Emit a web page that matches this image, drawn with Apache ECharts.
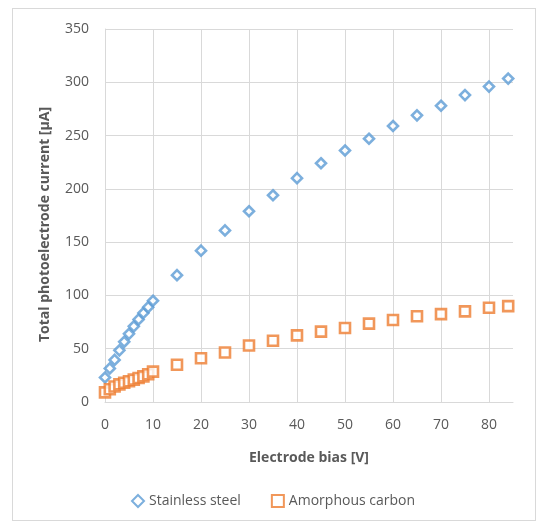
<!DOCTYPE html>
<html>
<head>
<meta charset="utf-8">
<script src="https://cdn.jsdelivr.net/npm/echarts@6/dist/echarts.min.js"></script>
<style>
html,body{margin:0;padding:0;background:#fff;}
#frame{position:absolute;left:12px;top:8px;width:524px;height:513px;border:1px solid #d9d9d9;box-sizing:border-box;}
#chart{position:absolute;left:0;top:0;width:538px;height:523px;}
</style>
</head>
<body>
<div id="frame"></div>
<div id="chart"></div>
<script>
var biasV = [0,1,2,3,4,5,6,7,8,9,10,15,20,25,30,35,40,45,50,55,60,65,70,75,80,84];
var stainlessSteel = [23,31.5,39.5,48.5,56.5,64,71,77.5,83.5,89,95,119,142,161,179,194,210,224,236,247,259,269,278,288,296,303.5];
var amorphousCarbon = [9,12,14.5,16.5,18,19.5,21,22.5,24,26,28.5,35,41,46.5,53,57.5,62.5,66,69.5,73.5,77,80.5,82.5,85,88.5,90];
var yTicks = [0,50,100,150,200,250,300,350];
var xTicks = [0,10,20,30,40,50,60,70,80];
var seriesNames = ['Stainless steel','Amorphous carbon'];

function pairs(xs, ys){ return xs.map(function(x,i){ return [x, ys[i]]; }); }

var font = '"Open Sans", "Liberation Sans", sans-serif';
var chart = echarts.init(document.getElementById('chart'), null, {renderer:'canvas'});
chart.setOption({
  animation:false,
  backgroundColor:'transparent',
  grid:{left:105, top:29, width:408, height:373, containLabel:false},
  xAxis:{
    type:'value', min:0, max:85, interval:10,
    name:'Electrode bias [V]', nameLocation:'middle', nameGap:49,
    nameTextStyle:{color:'#595959', fontFamily:font, fontSize:14, fontWeight:'bold'},
    axisLine:{show:true, lineStyle:{color:'#d9d9d9', width:1}},
    axisTick:{show:false},
    axisLabel:{color:'#595959', fontFamily:font, fontSize:14, margin:16, showMaxLabel:false,
      formatter:function(v){ return xTicks.indexOf(v)>=0 ? String(v) : ''; }},
    splitLine:{show:true, showMaxLine:false, lineStyle:{color:'#d9d9d9', width:1}}
  },
  yAxis:{
    type:'value', min:0, max:350, interval:50,
    name:'Total photoelectrode current [\u03bcA]', nameLocation:'middle', nameGap:53,
    nameTextStyle:{color:'#595959', fontFamily:font, fontSize:14, fontWeight:'bold', padding:[0,18,0,0]},
    axisLine:{show:true, lineStyle:{color:'#d9d9d9', width:1}},
    axisTick:{show:false},
    axisLabel:{color:'#595959', fontFamily:font, fontSize:14, margin:16,
      formatter:function(v){ return yTicks.indexOf(v)>=0 ? String(v) : ''; }},
    splitLine:{show:true, lineStyle:{color:'#d9d9d9', width:1}}
  },
  legend:{
    left:126, top:489, itemGap:30, itemWidth:12, itemHeight:12,
    textStyle:{color:'#595959', fontFamily:font, fontSize:14},
    data:seriesNames
  },
  series:[
    {name:seriesNames[0], type:'scatter', symbol:'diamond', symbolSize:10,
     itemStyle:{color:'#ffffff', borderColor:'#5b9bd5', borderWidth:2.6},
     data:pairs(biasV, stainlessSteel)},
    {name:seriesNames[1], type:'scatter', symbol:'rect', symbolSize:10,
     itemStyle:{color:'#ffffff', borderColor:'#ed7d31', borderWidth:2.6},
     data:pairs(biasV, amorphousCarbon)}
  ]
});
</script>
</body>
</html>
